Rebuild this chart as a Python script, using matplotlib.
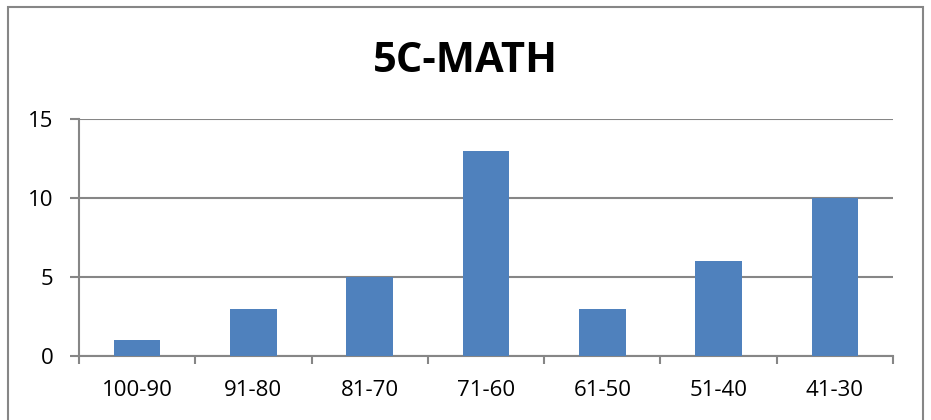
import matplotlib
matplotlib.use("Agg")
import matplotlib.pyplot as plt
from matplotlib.patches import Rectangle
import numpy as np

categories = ["100-90", "91-80", "81-70", "71-60", "61-50", "51-40", "41-30"]
values = [1, 3, 5, 13, 3, 6, 10]
yticks = [0, 5, 10, 15]
title = "5C-MATH"

grid_c = "#868686"
bar_c = "#4F81BD"

fig = plt.figure(figsize=(9.31, 4.2), dpi=100)
fig.patch.set_facecolor("white")
fig.patches.append(Rectangle((8/931, -0.05), (923-8)/931, 1.05 - 7/420,
                             transform=fig.transFigure, fill=False,
                             edgecolor=grid_c, linewidth=1.5, clip_on=False))

ax = fig.add_axes([79/931, 64/420, (893-79)/931, (356-119)/420])
x = np.arange(len(categories))
ax.bar(x, values, width=0.4, color=bar_c, zorder=3)
ax.set_xlim(-0.5, len(categories) - 0.5)
ax.set_ylim(0, 15)
ax.set_yticks(yticks)
ax.set_yticklabels([str(v) for v in yticks], fontsize=16, family="Open Sans")
ax.set_xticks(x)
ax.set_xticklabels(categories, fontsize=16, family="Open Sans")
ax.tick_params(axis="x", length=0, pad=17)
ax.set_xticks(np.arange(len(categories) + 1) - 0.5, minor=True)
ax.tick_params(axis="x", which="minor", length=6, width=1.5, color=grid_c)
ax.tick_params(axis="y", length=6.5, width=1.5, color=grid_c, pad=12)
ax.yaxis.grid(True, color=grid_c, linewidth=1.5, zorder=0)
ax.set_axisbelow(True)
for s in ["top", "right"]:
    ax.spines[s].set_visible(False)
for s in ["left", "bottom"]:
    ax.spines[s].set_color(grid_c)
    ax.spines[s].set_linewidth(1.5)

fig.text(0.5, 1 - 61/420, title, ha="center", va="center", fontsize=30,
         fontweight="bold", family="Open Sans")

fig.savefig("out.png", dpi=100)
